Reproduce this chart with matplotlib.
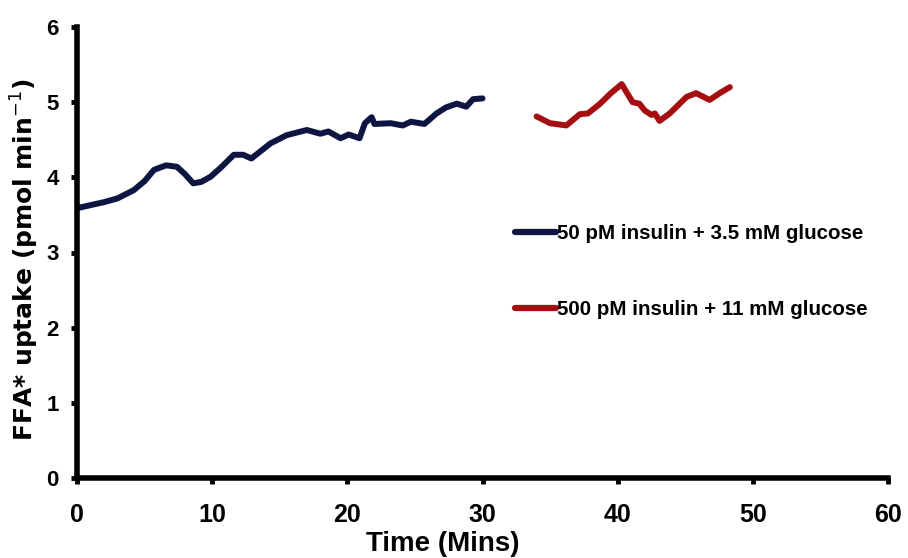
import matplotlib
matplotlib.use("Agg")
import matplotlib.pyplot as plt

# ---- data ----
t_low = [0.0, 1.0, 2.0, 3.0, 4.2, 5.0, 5.7, 6.6, 7.4, 8.0, 8.6, 9.2, 9.9, 10.7, 11.6, 12.3, 12.9,
         13.6, 14.3, 15.5, 17.0, 18.0, 18.6, 19.5, 20.1, 20.9, 21.3, 21.8, 22.0, 23.2, 24.1,
         24.7, 25.7, 26.6, 27.3, 28.1, 28.8, 29.3, 30.0]
v_low = [3.59, 3.63, 3.67, 3.72, 3.83, 3.95, 4.10, 4.16, 4.14, 4.04, 3.92, 3.94, 4.01, 4.14,
         4.30, 4.30, 4.25, 4.35, 4.45, 4.56, 4.63, 4.58, 4.61, 4.52, 4.57, 4.52, 4.72, 4.80,
         4.71, 4.72, 4.69, 4.74, 4.71, 4.85, 4.93, 4.98, 4.94, 5.04, 5.05]

t_high = [34.0, 35.0, 36.2, 37.2, 37.8, 38.7, 39.5, 40.3, 41.1, 41.6, 42.0, 42.5, 42.75,
          43.1, 43.85, 45.1, 45.8, 46.8, 47.55, 48.3]
v_high = [4.81, 4.72, 4.69, 4.84, 4.85, 4.98, 5.12, 5.24, 5.00, 4.98, 4.89, 4.83, 4.85,
          4.75, 4.85, 5.07, 5.12, 5.03, 5.12, 5.20]

label_low = "50 pM insulin + 3.5 mM glucose"
label_high = "500 pM insulin + 11 mM glucose"
xticks = [0, 10, 20, 30, 40, 50, 60]
yticks = [0, 1, 2, 3, 4, 5, 6]
xlabel = "Time (Mins)"
ylabel = "FFA* uptake (pmol min$^{-1}$)"

font = "Liberation Sans"

fig = plt.figure(figsize=(9.08, 5.58), dpi=100)
ax = fig.add_axes([77 / 908, 80 / 558, (888 - 77) / 908, (478 - 27) / 558])

ax.plot(t_low, v_low, color="#0d1540", lw=4.3, solid_capstyle="round", solid_joinstyle="round",
        label=label_low)
ax.plot(t_high, v_high, color="#a50f12", lw=4.3, solid_capstyle="round", solid_joinstyle="round",
        label=label_high)

ax.set_xlim(0, 60)
ax.set_ylim(0, 6)
ax.set_xticks(xticks)
ax.set_yticks(yticks)
ax.set_xticklabels([str(x) for x in xticks], family=font, fontweight="bold", fontsize=18)
ax.set_yticklabels([str(y) for y in yticks], family=font, fontweight="bold", fontsize=16)
for s in ["top", "right"]:
    ax.spines[s].set_visible(False)
for s in ["left", "bottom"]:
    ax.spines[s].set_linewidth(4)
    ax.spines[s].set_color("black")
    ax.spines[s].set_capstyle("projecting")
ax.tick_params(axis="both", direction="out", length=4, width=3.5, color="black")
ax.tick_params(axis="x", pad=14)
ax.tick_params(axis="y", pad=9)

ax.set_xlabel(xlabel, family=font, fontweight="bold", fontsize=20)
ax.xaxis.set_label_coords((443 - 77) / (888 - 77), -0.118)
ax.set_ylabel(ylabel, family="DejaVu Sans", fontweight="bold", fontsize=18)
ax.yaxis.set_label_coords(-0.045, 0.483)

leg = ax.legend(loc="center left", bbox_to_anchor=(515 / 908, 1 - 271.5 / 558),
                bbox_transform=fig.transFigure, frameon=False, handlelength=2.0,
                handletextpad=0.05, labelspacing=2.8, borderpad=0, borderaxespad=0,
                prop={"family": font, "weight": "bold", "size": 14.8})
for line in leg.get_lines():
    line.set_linewidth(4.5)

fig.savefig("out.png", dpi=100)
